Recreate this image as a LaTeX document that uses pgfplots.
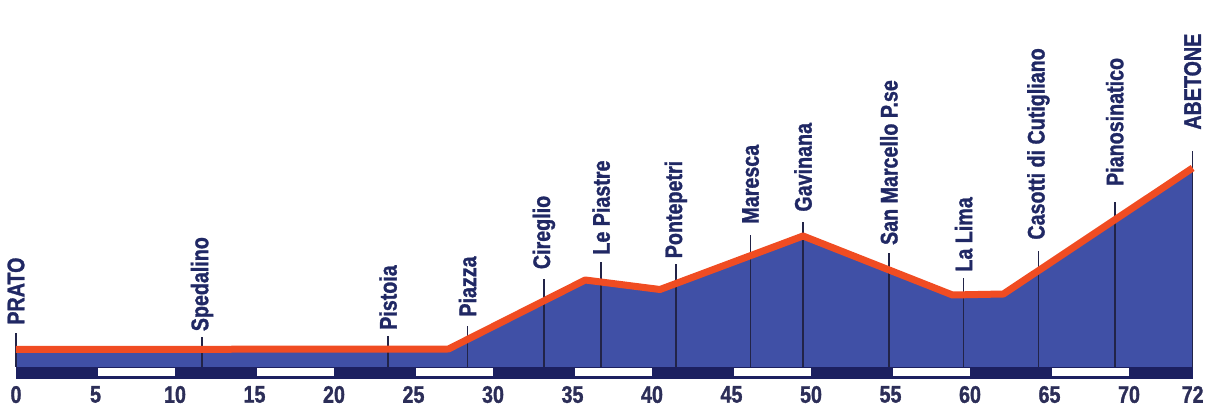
\documentclass[border=0pt]{standalone}
\usepackage{fontspec}
\setmainfont{Liberation Sans}[FakeStretch=0.82, BoldFeatures={FakeBold=1.2}]
\usepackage{pgfplots}
\usepackage{pgfplotstable}
\pgfplotsset{compat=1.18}

\definecolor{profblue}{RGB}{64,80,166}
\definecolor{profline}{RGB}{240,76,34}
\definecolor{stripc}{RGB}{28,32,96}
\definecolor{navytext}{RGB}{32,40,100}
\definecolor{ticktext}{RGB}{44,46,88}
\definecolor{pole}{RGB}{34,36,72}

% elevation profile, km vs height (units of the drawing, no y scale shown)
\pgfplotstableread{
km   elev
0    17.5
27.2 18
35.8 87
40.5 77.5
49.5 131
58.9 72
62.1 73
74.0 199
}\profile

% places: pole top and label start
\pgfplotstableread[col sep=comma]{
km,top,lab,name
0,34,42,PRATO
11.7,30.4,35.4,Spedalino
23.4,31,36.8,Pistoia
28.4,41,50,Piazza
33.2,87.5,97.5,Cireglio
36.8,105,112,Le Piastre
41.5,103.4,108.4,Pontepetri
46.2,132,143,Maresca
49.5,145,155,Gavinana
54.9,113.6,121.6,San Marcello P.se
59.6,89,95,La Lima
64.3,116,127,Casotti di Cutigliano
69.1,164.7,180.7,Pianosinatico
74.0,216,237,ABETONE
}\stops

\begin{document}
\begin{tikzpicture}
\begin{axis}[
  x=7.95pt, y=0.5pt,
  xmin=0, xmax=74, ymin=-12, ymax=367,
  axis line style={draw=none},
  tick style={draw=none},
  ytick=\empty,
  xtick={0,5,10,15,20,25,30,35,40,45,50,55,60,65,70,74},
  xticklabels={0,5,10,15,20,25,30,35,40,45,50,55,60,65,70,72},
  xticklabel style={font=\fontsize{12}{14}\selectfont\bfseries, text=ticktext},
  /pgf/number format/assume math mode=true,
  clip=false,
]
  \addplot[fill=profblue, draw=none] table[x=km, y=elev]{\profile} \closedcycle;

  % km strip
  \addplot[fill=stripc, draw=none] coordinates {(0,-12) (74,-12) (74,0) (0,0)};
  \addplot[fill=white, draw=none] coordinates {(5.15,-9.5) (10,-9.5) (10,-1.5) (5.15,-1.5)};
  \addplot[fill=white, draw=none] coordinates {(15.15,-9.5) (20,-9.5) (20,-1.5) (15.15,-1.5)};
  \addplot[fill=white, draw=none] coordinates {(25.15,-9.5) (30,-9.5) (30,-1.5) (25.15,-1.5)};
  \addplot[fill=white, draw=none] coordinates {(35.15,-9.5) (40,-9.5) (40,-1.5) (35.15,-1.5)};
  \addplot[fill=white, draw=none] coordinates {(45.15,-9.5) (50,-9.5) (50,-1.5) (45.15,-1.5)};
  \addplot[fill=white, draw=none] coordinates {(55.15,-9.5) (60,-9.5) (60,-1.5) (55.15,-1.5)};
  \addplot[fill=white, draw=none] coordinates {(65.15,-9.5) (70,-9.5) (70,-1.5) (65.15,-1.5)};

  % poles
  \addplot[ycomb, pole, line width=0.8pt, mark=none] table[x=km, y=top]{\stops};

  \addplot[profline, line width=3.5pt, line join=round] table[x=km, y=elev]{\profile};

  % place names
  \addplot[draw=none, mark=none, point meta=explicit symbolic,
    nodes near coords, nodes near coords align={anchor=west},
    every node near coord/.append style={rotate=90, inner sep=0pt,
      font=\fontsize{12}{14}\selectfont\bfseries, text=navytext}]
    table[x=km, y=lab, meta=name]{\stops};

  \coordinate (bbA) at (axis cs:-1.006,-39);
  \coordinate (bbB) at (axis cs:75.22,367);
\end{axis}
\pgfresetboundingbox
\path[use as bounding box] (bbA) rectangle (bbB);
\end{tikzpicture}
\end{document}
